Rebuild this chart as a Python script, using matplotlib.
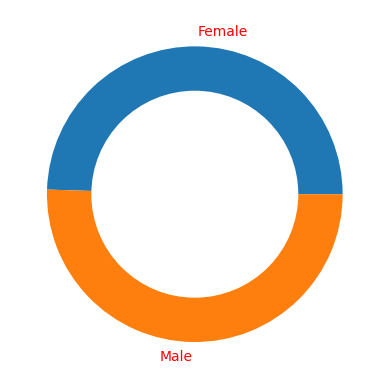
import matplotlib
matplotlib.use('Agg')
import matplotlib.pyplot as plt

# Datos: distribución por género
labels = ['Female', 'Male']
sizes = [49.5, 50.5]

fig = plt.figure(figsize=(6.4, 4.8))
plt.pie(sizes, labels=labels, textprops={'color': 'red'})

# Círculo blanco central para el efecto de dona
centre_circle = plt.Circle((0, 0), 0.70, fc='white')
fig.gca().add_artist(centre_circle)

plt.savefig("out.png", dpi=100, bbox_inches='tight')
plt.close()
